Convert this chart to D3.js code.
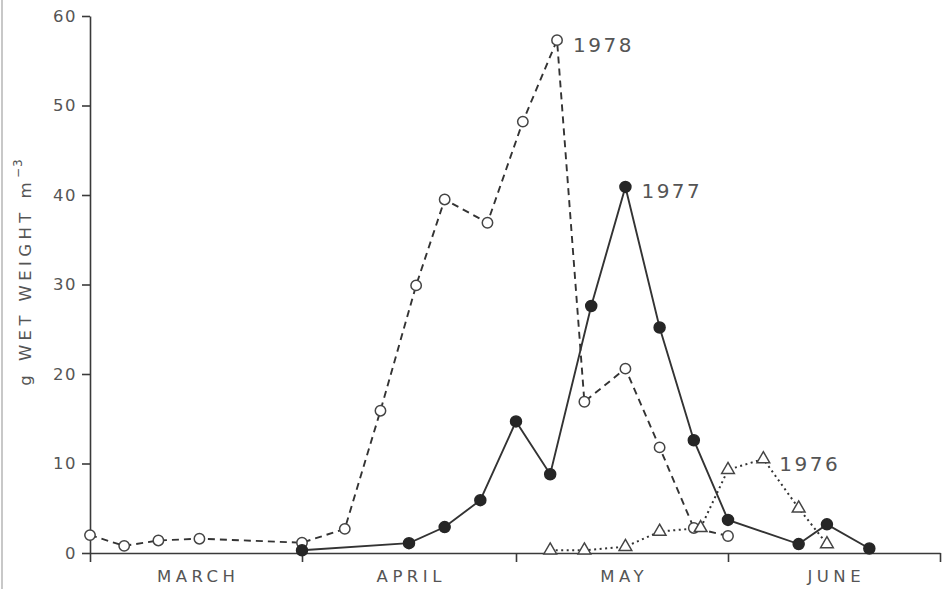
<!DOCTYPE html>
<html>
<head>
<meta charset="utf-8">
<script src="https://cdn.jsdelivr.net/npm/d3@7/dist/d3.min.js"></script>
<style>
  html, body { margin: 0; padding: 0; background: #fff; }
  svg { display: block; }
  text { font-family: "DejaVu Sans", sans-serif; fill: #555; }
</style>
</head>
<body>
<svg id="chart" width="948" height="589"></svg>
<script>
// Month bands along the seasonal axis
const months = ["MARCH", "APRIL", "MAY", "JUNE"];
const monthStarts = ["03-01", "04-01", "05-01", "06-01", "07-01"];
const yTicks = [0, 10, 20, 30, 40, 50, 60];

// Biomass, g wet weight per cubic metre, by sampling date
const dates1978 = ["03-01", "03-06", "03-11", "03-17", "04-01", "04-07", "04-12", "04-17", "04-21",
                   "04-27", "05-02", "05-07", "05-11", "05-17", "05-22", "05-27", "06-01"];
const values1978 = [2.0, 0.8, 1.4, 1.6, 1.15, 2.7, 15.9, 29.9, 39.5, 36.9, 48.2, 57.3, 16.9, 20.6, 11.8, 2.8, 1.9];

const dates1977 = ["04-01", "04-16", "04-21", "04-26", "05-01", "05-06", "05-12", "05-17", "05-22",
                   "05-27", "06-01", "06-11", "06-15", "06-21"];
const values1977 = [0.3, 1.1, 2.9, 5.9, 14.7, 8.8, 27.6, 40.9, 25.2, 12.6, 3.7, 1.0, 3.2, 0.5];

const dates1976 = ["05-06", "05-11", "05-17", "05-22", "05-28", "06-01", "06-06", "06-11", "06-15"];
const values1976 = [0.3, 0.3, 0.7, 2.4, 2.8, 9.3, 10.5, 5.0, 1.0];

const parse = d3.timeParse("%m-%d");
const svg = d3.select("#chart");

// Scan-frame edge on the left
svg.append("line").attr("x1", 2).attr("x2", 2).attr("y1", 0).attr("y2", 589)
  .attr("stroke", "#c8c8c8").attr("stroke-width", 2);

// Each month gets its own equal-width band
const x = d3.scaleTime()
  .domain(monthStarts.map(parse))
  .range([90, 302, 516, 728, 940]);
const y = d3.scaleLinear().domain([0, 60]).range([553, 16]);

const axisColor = "#3a3a3a";

// x axis
const gx = svg.append("g").attr("transform", `translate(0,${y(0)})`)
  .call(d3.axisBottom(x).tickValues(monthStarts.map(parse)).tickFormat("").tickSize(9).tickSizeOuter(0));
gx.select(".domain").attr("stroke", axisColor).attr("stroke-width", 1.6);
gx.selectAll(".tick line").attr("stroke", axisColor).attr("stroke-width", 1.6);

// Month names centred in their bands
months.forEach((m, i) => {
  const cx = (x(parse(monthStarts[i])) + x(parse(monthStarts[i + 1]))) / 2;
  svg.append("text")
    .attr("x", cx + 2.25).attr("y", 582)
    .attr("text-anchor", "middle")
    .style("font-size", "16.5px").style("letter-spacing", "4.5px")
    .text(m);
});

// y axis
const gy = svg.append("g").attr("transform", "translate(90,0)")
  .call(d3.axisLeft(y).tickValues(yTicks).tickSize(8).tickPadding(5).tickSizeOuter(0));
gy.select(".domain").attr("stroke", axisColor).attr("stroke-width", 1.6);
gy.selectAll(".tick line").attr("stroke", axisColor).attr("stroke-width", 1.6);
gy.selectAll(".tick text")
  .attr("fill", "#555")
  .style("font-family", "DejaVu Sans, sans-serif")
  .style("font-size", "16.5px").style("letter-spacing", "1.5px");

// y axis title
const yt = svg.append("text")
  .attr("transform", "translate(31,272) rotate(-90)")
  .attr("text-anchor", "middle")
  .style("font-size", "16.5px").style("letter-spacing", "4.4px");
yt.append("tspan").text("g WET WEIGHT m");
yt.append("tspan").attr("dy", -9).style("font-size", "12px").style("letter-spacing", "1px").text("\u22123");

// Series
const series = [
  { year: "1978", dates: dates1978, values: values1978, dash: "7,5", marker: "open" },
  { year: "1977", dates: dates1977, values: values1977, dash: null, marker: "filled" },
  { year: "1976", dates: dates1976, values: values1976, dash: "2,3.5", marker: "triangle" }
];

const line = d3.line().x(d => x(d.date)).y(d => y(d.value));

series.forEach(s => {
  s.points = s.dates.map((d, i) => ({ date: parse(d), value: s.values[i] }));
  svg.append("path")
    .datum(s.points)
    .attr("d", line)
    .attr("fill", "none")
    .attr("stroke", "#333")
    .attr("stroke-width", s.marker === "triangle" ? 2 : 1.9)
    .attr("stroke-dasharray", s.dash);
});

series.forEach(s => {
  const g = svg.append("g");
  if (s.marker === "triangle") {
    g.selectAll("path").data(s.points).join("path")
      .attr("transform", d => `translate(${x(d.date)},${y(d.value)})`)
      .attr("d", d3.symbol(d3.symbolTriangle, 70))
      .attr("fill", "#fff").attr("stroke", "#444").attr("stroke-width", 1.5);
  } else {
    g.selectAll("circle").data(s.points).join("circle")
      .attr("cx", d => x(d.date)).attr("cy", d => y(d.value))
      .attr("r", s.marker === "filled" ? 5.5 : 5.2)
      .attr("fill", s.marker === "filled" ? "#262626" : "#fff")
      .attr("stroke", s.marker === "filled" ? "#262626" : "#444")
      .attr("stroke-width", 1.5);
  }
  // Year label beside the seasonal maximum
  const peak = s.points[d3.maxIndex(s.points, d => d.value)];
  svg.append("text")
    .attr("x", x(peak.date) + 16).attr("y", y(peak.value) + 4.5)
    .attr("dominant-baseline", "central")
    .style("font-size", "20px").style("letter-spacing", "2.5px")
    .text(s.year);
});
</script>
</body>
</html>
